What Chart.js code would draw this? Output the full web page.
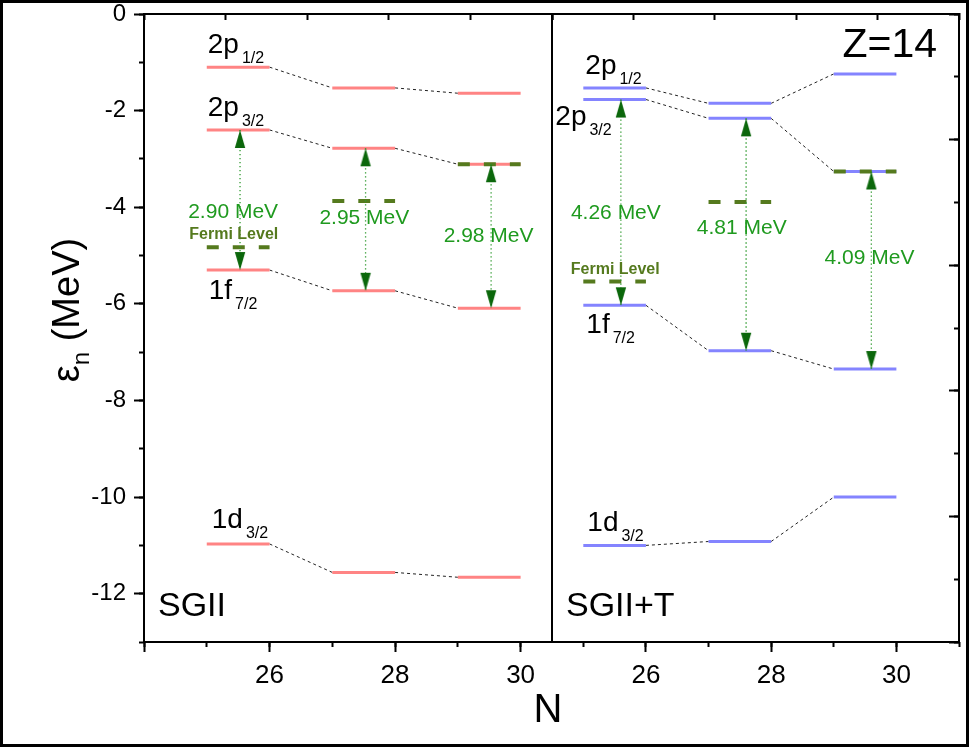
<!DOCTYPE html>
<html>
<head>
<meta charset="utf-8">
<title>Single-particle levels, Z=14</title>
<script src="https://cdn.jsdelivr.net/npm/chart.js@4/dist/chart.umd.min.js"></script>
<style>
  html, body { margin: 0; padding: 0; background: #fff; }
  #wrap { position: relative; width: 969px; height: 747px; overflow: hidden; background: #fff; }
  #wrap canvas { position: absolute; left: 0; top: 0; }
  #frame { position: absolute; left: 0; top: 0; width: 969px; height: 747px; box-sizing: border-box;
           border: 3px solid #000; pointer-events: none; }
</style>
</head>
<body>
<div id="wrap">
  <canvas id="cL" width="969" height="747"></canvas>
  <canvas id="cR" width="969" height="747"></canvas>
  <div id="frame"></div>
</div>
<script>
// Neutron numbers of the isotopes shown in each panel
const N_VALUES = [26, 28, 30];

// Single-particle energies (MeV), SGII
const SGII_2P12 = [-1.10, -1.53, -1.64];
const SGII_2P32 = [-2.40, -2.78, -3.11];
const SGII_1F72 = [-5.30, -5.73, -6.09];
const SGII_1D32 = [-10.97, -11.56, -11.66];
const SGII_FERMI = [-4.83, -3.87, -3.11];

// Single-particle energies (MeV), SGII+T
const SGIIT_2P12 = [-1.53, -1.85, -1.24];
const SGIIT_2P32 = [-1.77, -2.16, -3.26];
const SGIIT_1F72 = [-6.03, -6.97, -7.35];
const SGIIT_1D32 = [-11.00, -10.92, -10.00];
const SGIIT_FERMI = [-5.54, -3.89, -3.26];

const FONT = "'Liberation Sans', Arial, Helvetica, sans-serif";
const FERMI_COLOR = '#557a1e';
const GAP_COLOR = '#1f9a1f';

// ---------- point data built from the arrays above ----------
function segmentPoints(values) {
  const pts = [];
  N_VALUES.forEach((n, i) => {
    if (i) pts.push({ x: n - 1, y: null });
    pts.push({ x: n - 1, y: values[i] }, { x: n, y: values[i] });
  });
  return pts;
}
function connectorPoints(values) {
  const pts = [];
  for (let i = 0; i < values.length - 1; i++) {
    if (i) pts.push({ x: N_VALUES[i], y: null });
    pts.push({ x: N_VALUES[i], y: values[i] }, { x: N_VALUES[i + 1] - 1, y: values[i + 1] });
  }
  return pts;
}
function arrowPoints(upper, lower, shift) {
  const pts = [];
  N_VALUES.forEach((n, i) => {
    if (i) pts.push({ x: n - shift, y: null });
    pts.push({ x: n - shift, y: upper[i], head: 'up' }, { x: n - shift, y: lower[i], head: 'down' });
  });
  return pts;
}

// arrow heads: tip sits at the centre of the sprite
function arrowHead(up) {
  const c = document.createElement('canvas');
  c.width = 12; c.height = 38;
  const g = c.getContext('2d');
  g.fillStyle = '#0b670b';
  g.beginPath();
  if (up) { g.moveTo(6, 19); g.lineTo(0.8, 37); g.lineTo(11.2, 37); }
  else { g.moveTo(6, 19); g.lineTo(0.8, 1); g.lineTo(11.2, 1); }
  g.closePath();
  g.fill();
  return c;
}
const HEAD_UP = arrowHead(true);
const HEAD_DOWN = arrowHead(false);

// ---------- panel descriptions ----------
const PANELS = {
  sgii: {
    tag: 'SGII',
    color: '#ff8484',
    levels: [SGII_2P12, SGII_2P32, SGII_1F72, SGII_1D32],
    upper: SGII_2P32, lower: SGII_1F72, fermi: SGII_FERMI,
    arrowShift: 0.47,
    orbitals: [
      { main: '2p', sub: '1/2', values: SGII_2P12, dx: 1, dy: -14 },
      { main: '2p', sub: '3/2', values: SGII_2P32, dx: 1, dy: -14 },
      { main: '1f', sub: '7/2', values: SGII_1F72, dx: 2, dy: 29 },
      { main: '1d', sub: '3/2', values: SGII_1D32, dx: 5, dy: -16 }
    ],
    gapAt: [{ x: 25.42, y: -4.23 }, { x: 27.51, y: -4.35 }, { x: 29.49, y: -4.73 }],
    fermiTextAt: { x: 25.43, y: -4.66 }
  },
  sgiit: {
    tag: 'SGII+T',
    color: '#8484ff',
    levels: [SGIIT_2P12, SGIIT_2P32, SGIIT_1F72, SGIIT_1D32],
    upper: SGIIT_2P32, lower: SGIIT_1F72, fermi: SGIIT_FERMI,
    arrowShift: 0.40,
    orbitals: [
      { main: '2p', sub: '1/2', values: SGIIT_2P12, dx: 2, dy: -14 },
      { main: '2p', sub: '3/2', values: SGIIT_2P32, dx: -28, dy: 25 },
      { main: '1f', sub: '7/2', values: SGIIT_1F72, dx: 3, dy: 28 },
      { main: '1d', sub: '3/2', values: SGIIT_1D32, dx: 4, dy: -14 }
    ],
    gapAt: [{ x: 25.52, y: -4.25 }, { x: 27.53, y: -4.56 }, { x: 29.57, y: -5.18 }],
    fermiTextAt: { x: 25.51, y: -5.39 }
  }
};

function panelDatasets(p) {
  const sets = [];
  p.levels.forEach(values => {
    sets.push({ data: connectorPoints(values), borderColor: '#222', borderWidth: 1,
                borderDash: [3, 3], pointRadius: 0, order: 4 });
    sets.push({ data: segmentPoints(values), borderColor: p.color, borderWidth: 3,
                pointRadius: 0, order: 3 });
  });
  sets.push({ data: segmentPoints(p.fermi), borderColor: FERMI_COLOR, borderWidth: 4,
              borderDash: [12, 14], pointRadius: 0, order: 2 });
  sets.push({ data: arrowPoints(p.upper, p.lower, p.arrowShift), borderColor: '#2f9a2f',
              borderWidth: 1.3, borderDash: [1.3, 2.7], pointRadius: 4,
              pointStyle: ctx => (ctx.raw && ctx.raw.head === 'up') ? HEAD_UP : HEAD_DOWN,
              order: 1 });
  return sets;
}

// ---------- text drawn on top of each panel ----------
function drawOrbital(ctx, main, sub, x, y) {
  ctx.font = `28px ${FONT}`;
  ctx.textAlign = 'left';
  ctx.textBaseline = 'alphabetic';
  ctx.fillStyle = '#000';
  ctx.fillText(main, x, y);
  const w = ctx.measureText(main).width;
  ctx.font = `16px ${FONT}`;
  ctx.fillText(sub, x + w + 3, y + 10);
}

function panelTextPlugin(p, extra) {
  return {
    id: 'panelText',
    afterDatasetsDraw(chart) {
      const { ctx, chartArea } = chart;
      const xs = chart.scales.x, ys = chart.scales.y;
      ctx.save();
      p.orbitals.forEach(o => {
        const px = xs.getPixelForValue(N_VALUES[0] - 1) + o.dx;
        const py = ys.getPixelForValue(o.values[0]) + o.dy;
        drawOrbital(ctx, o.main, o.sub, px, py);
      });
      ctx.textAlign = 'center';
      ctx.textBaseline = 'alphabetic';
      ctx.font = `21px ${FONT}`;
      ctx.fillStyle = GAP_COLOR;
      p.gapAt.forEach((pos, i) => {
        const gap = (p.upper[i] - p.lower[i]).toFixed(2);
        ctx.fillText(`${gap} MeV`, xs.getPixelForValue(pos.x), ys.getPixelForValue(pos.y));
      });
      ctx.font = `bold 16px ${FONT}`;
      ctx.fillStyle = FERMI_COLOR;
      ctx.fillText('Fermi Level', xs.getPixelForValue(p.fermiTextAt.x), ys.getPixelForValue(p.fermiTextAt.y));
      ctx.textAlign = 'left';
      ctx.fillStyle = '#000';
      ctx.font = `34px ${FONT}`;
      ctx.fillText(p.tag, chartArea.left + 14, chartArea.bottom - 26);
      if (extra) extra(ctx, chart);
      ctx.restore();
    }
  };
}

// ---------- shared axis helpers ----------
const tickFont = size => ({ family: FONT, size });
// fixed box sizes; label overhang must not push the plot area around
function fixBox(s, size) {
  if (s.isHorizontal()) s.height = size; else s.width = size;
  s.paddingTop = 0; s.paddingBottom = 0; s.paddingLeft = 0; s.paddingRight = 0;
}
function minorAxis(position, min, max, len, axis) {
  return {
    type: 'linear', axis, position, min, max, weight: 0,
    ticks: { display: false, stepSize: 1, includeBounds: false, autoSkip: false },
    grid: { drawOnChartArea: false, tickLength: len, tickColor: '#000', tickWidth: 2 },
    border: { display: false },
    afterFit: s => fixBox(s, 0)
  };
}
function frameAxis(position, len, axis) {
  // top / right frame lines carry their own evenly spaced inward ticks
  return {
    type: 'linear', axis, position, min: 0, max: 10, weight: 1,
    ticks: { display: false, stepSize: 2, autoSkip: false },
    grid: { drawOnChartArea: false, tickLength: len, tickColor: '#000', tickWidth: 2 },
    border: { display: true, color: '#000', width: 2 },
    afterFit: s => fixBox(s, position === 'top' ? 14 : 0)
  };
}
function bottomAxis(min, max) {
  return {
    type: 'linear', position: 'bottom', min, max, weight: 1,
    ticks: { stepSize: 2, includeBounds: false, autoSkip: false, maxRotation: 0,
             color: '#000', font: tickFont(26), padding: 8,
             callback: v => (v === 24 ? '' : String(v)) },
    grid: { drawOnChartArea: false, tickLength: 10, tickColor: '#000', tickWidth: 2 },
    border: { display: true, color: '#000', width: 2 },
    afterFit: s => fixBox(s, 105)
  };
}
const baseOptions = {
  responsive: false, maintainAspectRatio: false, animation: false, devicePixelRatio: 1,
  events: [],
  plugins: { legend: { display: false }, tooltip: { enabled: false } },
  elements: { line: { tension: 0, fill: false } }
};

// ---------- left panel: SGII, carries the energy axis ----------
new Chart(document.getElementById('cL'), {
  type: 'line',
  data: { datasets: panelDatasets(PANELS.sgii) },
  options: {
    ...baseOptions,
    layout: { padding: { left: 0, top: 0, right: 969 - 552, bottom: 0 } },
    scales: {
      x: bottomAxis(24, 30.5),
      xMinor: minorAxis('bottom', 24, 30.5, 5, 'x'),
      xTop: frameAxis('top', -6, 'x'),
      y: {
        type: 'linear', position: 'left', min: -13, max: 0, weight: 1,
        ticks: { stepSize: 2, includeBounds: false, autoSkip: false, color: '#000',
                 font: tickFont(24), padding: 8 },
        grid: { drawOnChartArea: false, tickLength: 10, tickColor: '#000', tickWidth: 2 },
        border: { display: true, color: '#000', width: 2 },
        afterFit: s => fixBox(s, 144)
      },
      yMinor: minorAxis('left', -13, 0, 5, 'y')
    }
  },
  plugins: [panelTextPlugin(PANELS.sgii, (ctx, chart) => {
    const area = chart.chartArea;
    // energy axis title: ε with subscript n
    ctx.save();
    ctx.translate(area.left - 65, 310);
    ctx.rotate(-Math.PI / 2);
    ctx.textAlign = 'left';
    ctx.textBaseline = 'alphabetic';
    ctx.font = `38px ${FONT}`;
    const wE = ctx.measureText('ε').width;
    const wU = ctx.measureText(' (MeV)').width;
    ctx.font = `24px ${FONT}`;
    const wN = ctx.measureText('n').width;
    const start = -(wE + wN + wU) / 2;
    ctx.font = `38px ${FONT}`;
    ctx.fillText('ε', start, 0);
    ctx.fillText(' (MeV)', start + wE + wN, 0);
    ctx.font = `24px ${FONT}`;
    ctx.fillText('n', start + wE, 10);
    ctx.restore();
    // neutron-number axis title, centred under both panels
    ctx.font = `40px ${FONT}`;
    ctx.textAlign = 'center';
    ctx.fillText('N', 548, 722);
  })]
});

// ---------- right panel: SGII+T ----------
new Chart(document.getElementById('cR'), {
  type: 'line',
  data: { datasets: panelDatasets(PANELS.sgiit) },
  options: {
    ...baseOptions,
    layout: { padding: { left: 552, top: 0, right: 969 - 959, bottom: 0 } },
    scales: {
      x: bottomAxis(24.5, 31),
      xMinor: minorAxis('bottom', 24.5, 31, 5, 'x'),
      xTop: frameAxis('top', -6, 'x'),
      y: {
        type: 'linear', position: 'left', min: -13, max: 0,
        ticks: { display: false },
        grid: { display: false, drawTicks: false },
        border: { display: true, color: '#000', width: 2 },
        afterFit: s => fixBox(s, 0)
      },
      yRight: frameAxis('right', -10, 'y'),
      yRightMinor: minorAxis('right', 0, 10, -5, 'y')
    }
  },
  plugins: [panelTextPlugin(PANELS.sgiit, (ctx, chart) => {
    ctx.font = `41px ${FONT}`;
    ctx.textAlign = 'right';
    ctx.fillText('Z=14', chart.chartArea.right - 22, 57);
  })]
});
</script>
</body>
</html>
